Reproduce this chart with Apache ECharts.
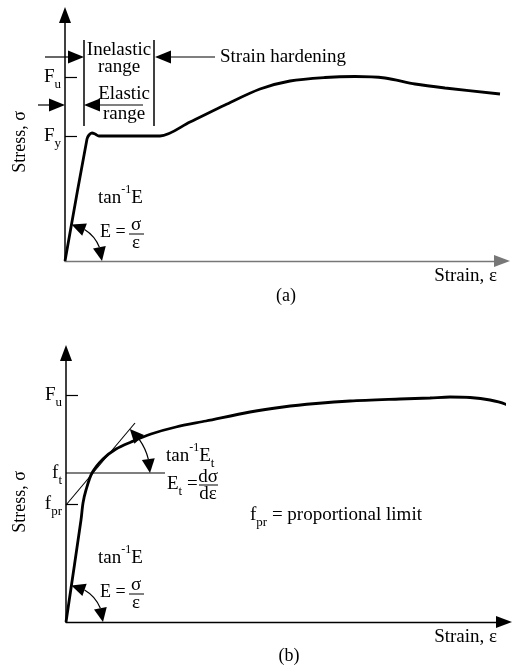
<!DOCTYPE html>
<html><head><meta charset="utf-8">
<script src="https://cdn.jsdelivr.net/npm/echarts@6/dist/echarts.min.js"></script>
<style>html,body{margin:0;padding:0;background:#fff}#c{width:512px;height:665px}</style>
</head><body><div id="c"></div>
<script>
// ---------- Panel (a): stress-strain curve with yield plateau (diagram units) ----------
const strainA = [0, 22, 24, 27, 30, 34, 95, 125, 160, 195, 225, 260, 290, 320, 350, 380, 435];
const stressA = [0, 122, 126, 128, 127, 125, 125, 139, 156, 172, 180, 183.5, 184.5, 183, 177, 173, 167];
const FyA = 125, FuA = 184;
const yMarksA = [FyA, FuA];
const yMarkNamesA = [['F', 'y'], ['F', 'u']];
// annotation arrows [x1,y1,x2,y2] (arrow head at x2,y2) and range brackets
const arrowsA = [[-20, 204, 19, 204], [-27, 156, 0, 156], [78, 156, 19, 156], [150, 204, 90, 204]];
const bracketsA = [[19, 221, 19, 135], [89, 221, 89, 135]];
// angle arcs: [centerX, centerY, pointOnLineX, pointOnLineY]
const arcsA = [[0, 0, 22, 122]];

// ---------- Panel (b): gradual yielding curve ----------
const strainB = [0, 15, 17, 20, 26, 37, 50, 65, 85, 110, 140, 184, 217, 250, 284, 334, 364, 384, 404, 424, 439, 446];
const stressB = [0, 102, 119, 132, 149, 163, 173, 180, 188, 195, 201, 210, 215, 218.5, 221, 223, 224, 225, 224.5, 222, 218, 213];
const FuB = 227, ftB = 149, fprB = 118;
const tangentX = [0, 69], tangentY = [117, 199];
const ftLineX = [0, 99];
const yTickB = [fprB, FuB];
const yMarksB = [fprB, ftB, FuB];
const yMarkNamesB = [['f', 'pr'], ['f', 't'], ['F', 'u']];
const arcsB = [[0, 0, 15, 102]];
const arcsBt = [[26, ftB, tangentX[1], tangentY[1]]];

const serif = "'Liberation Serif', 'DejaVu Serif', serif";
const FS = 19;
const richL = {
  m: {fontSize: FS, fontFamily: serif, color: '#000', fill: '#000'},
  p: {fontSize: 12, fontFamily: serif, color: '#000', fill: '#000', padding: [0, 0, 16, 0]},
  b: {fontSize: 13, fontFamily: serif, color: '#000', fill: '#000', padding: [16, 0, 0, 0]}
};

function pairs(xs, ys) { return xs.map((x, i) => [x, ys[i]]); }
function labelMap(vals, names) {
  const m = {};
  vals.forEach((v, i) => { m[v] = '{m|' + names[i][0] + '}{b|' + names[i][1] + '}'; });
  return m;
}
const labA = labelMap(yMarksA, yMarkNamesA);
const labB = labelMap(yMarksB, yMarkNamesB);

function head(tip, base, hw) {
  const dx = tip[0] - base[0], dy = tip[1] - base[1];
  const L = Math.hypot(dx, dy) || 1;
  const nx = -dy / L * hw, ny = dx / L * hw;
  return {type: 'polygon', shape: {points: [tip, [base[0] + nx, base[1] + ny], [base[0] - nx, base[1] - ny]]}, style: {fill: '#000'}};
}
function arrowRender(params, api) {
  const p1 = api.coord([api.value(0), api.value(1)]);
  const p2 = api.coord([api.value(2), api.value(3)]);
  const dx = p2[0] - p1[0], dy = p2[1] - p1[1], L = Math.hypot(dx, dy);
  const hl = 16;
  const b = [p2[0] - dx / L * hl, p2[1] - dy / L * hl];
  return {type: 'group', children: [
    {type: 'line', shape: {x1: p1[0], y1: p1[1], x2: b[0], y2: b[1]}, style: {stroke: '#000', lineWidth: 1.2}},
    head(p2, b, 6.5)
  ]};
}
function lineRender(params, api) {
  const p1 = api.coord([api.value(0), api.value(1)]);
  const p2 = api.coord([api.value(2), api.value(3)]);
  return {type: 'line', shape: {x1: p1[0], y1: p1[1], x2: p2[0], y2: p2[1]}, style: {stroke: '#000', lineWidth: 1.5}};
}
function arcRender(r) {
  return function (params, api) {
    const c = api.coord([api.value(0), api.value(1)]);
    const q = api.coord([api.value(2), api.value(3)]);
    const aTop = Math.atan2(c[1] - q[1], q[0] - c[0]);
    const hl = 14, d = hl / r;
    const pt = a => [c[0] + r * Math.cos(a), c[1] - r * Math.sin(a)];
    return {type: 'group', children: [
      {type: 'arc', shape: {cx: c[0], cy: c[1], r: r, startAngle: -(aTop - d), endAngle: -d, clockwise: true},
       style: {stroke: '#000', fill: 'none', lineWidth: 1.2}},
      head(pt(aTop), pt(aTop - d), 6.5),
      head(pt(0), pt(d), 6.5)
    ]};
  };
}

function txt(text, x, y, align, extra, size) {
  return Object.assign({type: 'text', x: x, y: y, silent: true,
    style: {text: text, font: (size || FS) + 'px ' + serif, fill: '#000', align: align || 'left', verticalAlign: 'middle', rich: richL}}, extra || {});
}
function bar(x1, x2, y) {
  return {type: 'line', silent: true, shape: {x1: x1, y1: y, x2: x2, y2: y}, style: {stroke: '#000', lineWidth: 1}};
}

const graphic = [
  // panel (a)
  txt('Inelastic', 119, 50, 'center'),
  txt('range', 119, 67, 'center'),
  txt('Elastic', 124, 94, 'center'),
  txt('range', 124, 114, 'center'),
  txt('Strain hardening', 220, 57, 'left'),
  txt('{m|tan}{p|-1}{m|E}', 98, 198, 'left'),
  txt('E =', 100, 232, 'left', null, 18),
  txt('σ', 136, 225, 'center'), bar(129, 144, 234), txt('ε', 136, 243, 'center'),
  txt('(a)', 286, 296, 'center', null, 18),
  txt('Stress, σ', 20, 142, 'center', {rotation: Math.PI / 2}, 18),
  // panel (b)
  txt('{m|tan}{p|-1}{m|E}{b|t}', 166, 456, 'left'),
  txt('{m|E}{b|t}{m| =}', 167, 484, 'left'),
  txt('dσ', 208, 477, 'center'), bar(199, 218, 485), txt('dε', 208, 494, 'center'),
  txt('{m|f}{b|pr}{m| = proportional limit}', 250, 515, 'left'),
  txt('{m|tan}{p|-1}{m|E}', 98, 558, 'left'),
  txt('E =', 100, 592, 'left', null, 18),
  txt('σ', 136, 585, 'center'), bar(129, 144, 594), txt('ε', 136, 603, 'center'),
  txt('(b)', 289, 656, 'center', null, 18),
  txt('Stress, σ', 20, 502, 'center', {rotation: Math.PI / 2}, 18)
];

function xAx(idx, max, color, gap) {
  return {gridIndex: idx, type: 'value', min: 0, max: max, splitLine: {show: false},
    axisTick: {show: false}, axisLabel: {show: false},
    axisLine: {show: true, symbol: ['none', 'triangle'], symbolSize: [12, 16], lineStyle: {color: color, width: 1.3}},
    name: 'Strain, ε', nameLocation: 'end', nameGap: gap,
    nameTextStyle: {fontFamily: serif, fontSize: FS, color: '#000', align: 'right', verticalAlign: 'top', padding: [6, 0, 0, 0]}};
}
function yAx(idx, max, tickVals, labVals, labMap) {
  return {gridIndex: idx, type: 'value', min: 0, max: max, splitLine: {show: false},
    axisLine: {show: true, symbol: ['none', 'triangle'], symbolSize: [12, 16], lineStyle: {color: '#000', width: 1.5}},
    axisTick: {show: true, inside: true, length: 12, customValues: tickVals, lineStyle: {color: '#000', width: 1.2}},
    axisLabel: {show: true, customValues: labVals, margin: 4, formatter: v => labMap[v] || '', rich: richL}};
}

const option = {
  animation: false,
  backgroundColor: '#fff',
  grid: [
    {left: 65, top: 15, width: 437, height: 246},
    {left: 66, top: 353, width: 438, height: 269}
  ],
  xAxis: [xAx(0, 437, '#777', -5), xAx(1, 438, '#000', -7)],
  yAxis: [yAx(0, 246, yMarksA, yMarksA, labA), yAx(1, 269, yTickB, yMarksB, labB)],
  graphic: graphic,
  series: [
    {type: 'line', xAxisIndex: 0, yAxisIndex: 0, data: pairs(strainA, stressA), symbol: 'none', smooth: 0.3,
     clip: false, lineStyle: {color: '#000', width: 2.8}},
    {type: 'custom', xAxisIndex: 0, yAxisIndex: 0, data: arrowsA, renderItem: arrowRender, clip: false, silent: true},
    {type: 'custom', xAxisIndex: 0, yAxisIndex: 0, data: bracketsA, renderItem: lineRender, clip: false, silent: true},
    {type: 'custom', xAxisIndex: 0, yAxisIndex: 0, data: arcsA, renderItem: arcRender(37), clip: false, silent: true},
    {type: 'line', xAxisIndex: 1, yAxisIndex: 1, data: pairs(strainB, stressB), symbol: 'none', smooth: 0.3,
     clip: false, lineStyle: {color: '#000', width: 2.8}},
    {type: 'line', xAxisIndex: 1, yAxisIndex: 1, data: pairs(tangentX, tangentY), symbol: 'none',
     clip: false, lineStyle: {color: '#000', width: 1.1}},
    {type: 'line', xAxisIndex: 1, yAxisIndex: 1, data: pairs(ftLineX, [ftB, ftB]), symbol: 'none',
     clip: false, lineStyle: {color: '#000', width: 1.2}},
    {type: 'custom', xAxisIndex: 1, yAxisIndex: 1, data: arcsB, renderItem: arcRender(37), clip: false, silent: true},
    {type: 'custom', xAxisIndex: 1, yAxisIndex: 1, data: arcsBt, renderItem: arcRender(58), clip: false, silent: true}
  ]
};
const chart = echarts.init(document.getElementById('c'));
chart.setOption(option);
</script>
</body></html>
